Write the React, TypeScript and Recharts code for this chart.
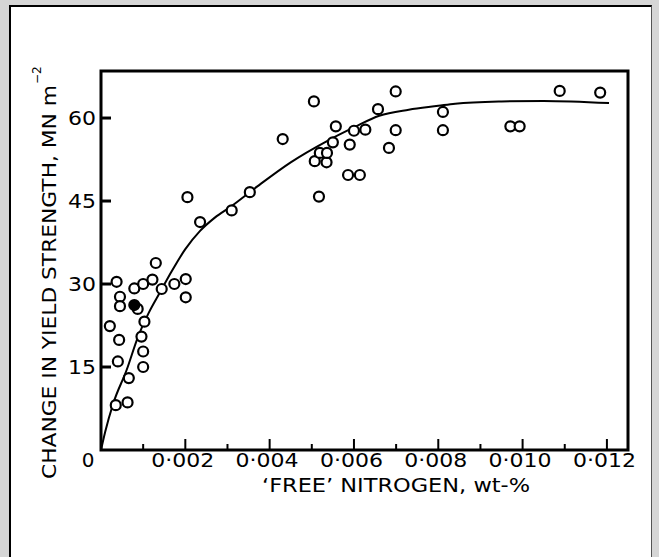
import React from "react";
import { ScatterChart, Scatter, XAxis, YAxis, ReferenceArea } from "recharts";

// plot box in page pixels
const PLOT = { left: 101, top: 71, right: 628, bottom: 450 };
const W = 659;
const H = 557;
const X_MAX = 0.0125;
const Y_MAX = 68.5;
const FONT = "DejaVu Sans";
const Y_AXIS_W = 40;
const X_AXIS_H = 30;

const xTicks = [0, 0.001, 0.002, 0.003, 0.004, 0.005, 0.006, 0.007, 0.008, 0.009, 0.01, 0.011, 0.012];
const xTickLabels = ["0", "", "0·002", "", "0·004", "", "0·006", "", "0·008", "", "0·010", "", "0·012"];
const yTicks = [15, 30, 45, 60];

// measured points: 'free' N (wt-%) and change in yield strength (MN m^-2)
const openN = [
  0.00037, 0.00079, 0.001, 0.00122, 0.00144, 0.00174, 0.00201, 0.00201, 0.00045, 0.00045,
  0.00087, 0.00103, 0.00021, 0.00043, 0.00096, 0.001, 0.001, 0.0004, 0.00066, 0.00035,
  0.00063, 0.0013, 0.00205, 0.00235, 0.0031, 0.00353, 0.00431, 0.00505, 0.00517, 0.00507,
  0.00535, 0.00519, 0.00536, 0.0055, 0.00557, 0.0059, 0.00586, 0.00614, 0.006, 0.00627,
  0.00657, 0.00683, 0.00699, 0.00699, 0.00811, 0.00811, 0.00971, 0.00993, 0.01088, 0.01184,
];
const openDY = [
  30.4, 29.2, 30.0, 30.8, 29.1, 30.0, 30.9, 27.6, 27.7, 26.0,
  25.5, 23.2, 22.4, 19.9, 20.5, 17.8, 15.0, 16.0, 13.0, 8.1,
  8.6, 33.8, 45.7, 41.2, 43.3, 46.6, 56.2, 63.0, 45.8, 52.2,
  52.0, 53.7, 53.7, 55.6, 58.5, 55.2, 49.7, 49.7, 57.7, 57.9,
  61.6, 54.6, 64.8, 57.8, 61.1, 57.8, 58.5, 58.5, 64.9, 64.6,
];
const solidN = [0.00079];
const solidDY = [26.2];

// hand-drawn trend curve
const fitN = [
  0, 0.0001, 0.00029, 0.00061, 0.00088, 0.00112, 0.0014, 0.00167, 0.002, 0.00235, 0.0027,
  0.0031, 0.0037, 0.0045, 0.00535, 0.006, 0.0066, 0.0073, 0.008, 0.0084, 0.0095, 0.0105, 0.01205,
];
const fitDY = [
  0, 3.3, 8.4, 14.5, 20.5, 24.6, 28.5, 32.2, 36.3, 39.6, 42.0,
  44.1, 47.6, 52.0, 55.8, 58.3, 60.4, 61.5, 62.2, 62.6, 63.0, 63.1, 62.7,
];

const pts = (xs: number[], ys: number[]) => xs.map((x, i) => ({ x, y: ys[i] }));

const openCircle = (p: any) => (
  <circle cx={p.cx} cy={p.cy} r={5} fill="#fff" stroke="#000" strokeWidth={2.2} />
);
const solidCircle = (p: any) => (
  <circle cx={p.cx} cy={p.cy} r={5} fill="#000" stroke="#000" strokeWidth={2.2} />
);
const noDot = () => <g />;

// tickSize 0 / tickMargin 0 -> (x, y) is on the axis line
const XTick = (props: any) => {
  const { x, y, payload } = props;
  const i = xTicks.indexOf(payload.value);
  const label = xTickLabels[i];
  const major = i % 2 === 0;
  return (
    <g>
      {i > 0 && (
        <line x1={x} x2={x} y1={y} y2={y - (major ? 11 : 6)} stroke="#000" strokeWidth={2} />
      )}
      {label && (
        <text
          x={i === 0 ? x - 13 : x - 34}
          y={y + 17}
          textAnchor={i === 0 ? "middle" : "start"}
          fontFamily={FONT}
          fontSize={20}
          fill="#000"
          textLength={i === 0 ? undefined : 63}
          lengthAdjust="spacingAndGlyphs"
        >
          {label}
        </text>
      )}
    </g>
  );
};

const YTick = (props: any) => {
  const { x, y, payload } = props;
  return (
    <g>
      <line x1={x} x2={x + 10} y1={y} y2={y} stroke="#000" strokeWidth={3} />
      <text
        x={x - 33}
        y={y + 7}
        fontFamily={FONT}
        fontSize={20}
        fill="#000"
        textLength={28}
        lengthAdjust="spacingAndGlyphs"
      >
        {payload.value}
      </text>
    </g>
  );
};

const App: React.FC = () => {
  return (
    <div style={{ position: "absolute", left: 0, top: 0, width: W, height: H, background: "#d6d6d6" }}>
      <div
        style={{
          position: "absolute",
          left: 9,
          top: 5,
          width: 640,
          height: H - 5,
          background: "#fff",
          borderLeft: "2px solid #000",
          borderTop: "2px solid #000",
          borderRight: "1px solid #555",
        }}
      />
      <div style={{ position: "absolute", left: 0, top: 0 }}>
        <ScatterChart
          width={W}
          height={H}
          margin={{
            top: PLOT.top,
            right: W - PLOT.right,
            bottom: H - PLOT.bottom - X_AXIS_H,
            left: PLOT.left - Y_AXIS_W,
          }}
        >
          <XAxis
            type="number"
            dataKey="x"
            domain={[0, X_MAX]}
            allowDataOverflow
            ticks={xTicks}
            interval={0}
            height={X_AXIS_H}
            tickSize={0}
            tickMargin={0}
            axisLine={false}
            tick={<XTick />}
          />
          <YAxis
            type="number"
            dataKey="y"
            domain={[0, Y_MAX]}
            allowDataOverflow
            ticks={yTicks}
            interval={0}
            width={Y_AXIS_W}
            tickSize={0}
            tickMargin={0}
            axisLine={false}
            tick={<YTick />}
          />
          <ReferenceArea
            x1={0}
            x2={X_MAX}
            y1={0}
            y2={Y_MAX}
            fill="none"
            stroke="#000"
            strokeWidth={3}
            ifOverflow="visible"
          />
          <Scatter
            data={pts(fitN, fitDY)}
            line={{ stroke: "#000", strokeWidth: 2 }}
            lineJointType="monotoneX"
            shape={noDot}
            isAnimationActive={false}
          />
          <Scatter data={pts(openN, openDY)} shape={openCircle} isAnimationActive={false} />
          <Scatter data={pts(solidN, solidDY)} shape={solidCircle} isAnimationActive={false} />
        </ScatterChart>
      </div>
      <svg
        width={W}
        height={H}
        style={{ position: "absolute", left: 0, top: 0, pointerEvents: "none" }}
      >
        <text
          transform="rotate(-90 56 479)"
          x={56}
          y={479}
          fontFamily={FONT}
          fontSize={20}
          fill="#000"
          textLength={394}
          lengthAdjust="spacingAndGlyphs"
        >
          CHANGE IN YIELD STRENGTH, MN m
        </text>
        <text transform="rotate(-90 41 84)" x={41} y={84} fontFamily={FONT} fontSize={12} fill="#000">
          −2
        </text>
        <text
          x={262}
          y={492}
          fontFamily={FONT}
          fontSize={20}
          fill="#000"
          textLength={268}
          lengthAdjust="spacingAndGlyphs"
        >
          ‘FREE’ NITROGEN, wt-%
        </text>
      </svg>
    </div>
  );
};

export default App;
